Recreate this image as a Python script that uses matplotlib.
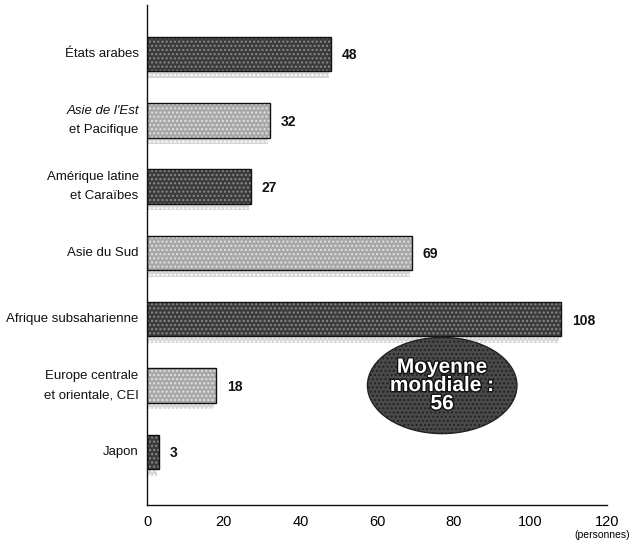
import matplotlib.pyplot as plt
from matplotlib.patches import Ellipse
import matplotlib.patheffects as pe

regions = ["États arabes", "Asie de l'Est\net Pacifique", "Amérique latine\net Caraïbes",
           "Asie du Sud", "Afrique subsaharienne", "Europe centrale\net orientale, CEI", "Japon"]
values = [48, 32, 27, 69, 108, 18, 3]
shades = ["dark", "light", "dark", "light", "dark", "light", "dark"]
xticks = [0, 20, 40, 60, 80, 100, 120]
moyenne = 56

plt.rcParams['font.family'] = ['Liberation Sans', 'DejaVu Sans']

fill = {"dark": "#3c3c3c", "light": "#a8a8a8"}
grain = {"dark": "#8a8a8a", "light": "#e2e2e2"}

fig = plt.figure(figsize=(6.31, 5.47), dpi=100)
ax = fig.add_axes([0.233, 0.077, 0.729, 0.914])

h = 0.52
for i, (v, s) in enumerate(zip(values, shades)):
    # shadow strip under the bar
    ax.barh(i + h / 2 + 0.05, v - 0.5, height=0.1, left=0, color="#d6d6d6",
            hatch="....", edgecolor="#ffffff", linewidth=0)
    ax.barh(i, v, height=h, color=fill[s], edgecolor=grain[s], hatch="....", linewidth=0)
    ax.barh(i, v, height=h, fill=False, edgecolor="#111111", linewidth=1.0)
    ax.annotate(str(v), (v, i), xytext=(8, -1), textcoords="offset points",
                ha="left", va="center", fontsize=10, fontweight="bold", color="#111111")

for i, lab in enumerate(regions):
    lines = lab.split("\n")
    n = len(lines)
    for k, line in enumerate(lines):
        dy = (n - 1) * 7 - k * 14
        style = "italic" if line.startswith("Asie de l") else "normal"
        ax.annotate(line, (0, i), xytext=(-6, dy), textcoords="offset points",
                    ha="right", va="center", fontsize=9.5, style=style, color="#111111")

ax.set_xlim(0, 120)
ax.set_ylim(6.8, -0.74)
ax.set_xticks(xticks)
ax.set_xticklabels([str(t) for t in xticks], fontsize=10.5)
ax.set_yticks([])
ax.tick_params(axis="x", length=0, pad=7)
ax.spines["top"].set_visible(False)
ax.spines["right"].set_visible(False)
for sp in ("left", "bottom"):
    ax.spines[sp].set_linewidth(1.0)
    ax.spines[sp].set_color("#111111")

fig.text(0.998, 0.022, "(personnes)", ha="right", va="center", fontsize=7.5)

# world average badge
ell = Ellipse((77, 5.0), 39, 1.45, facecolor="#4a4a4a", edgecolor="#222222",
              hatch="....", linewidth=1.0)
ax.add_patch(ell)
ax.text(77, 5.0, "Moyenne\nmondiale :\n%d" % moyenne, ha="center", va="center",
        fontsize=15, fontweight="bold", color="white", linespacing=0.95,
        path_effects=[pe.withStroke(linewidth=2, foreground="#111111")])

fig.savefig("out.png", dpi=100)
